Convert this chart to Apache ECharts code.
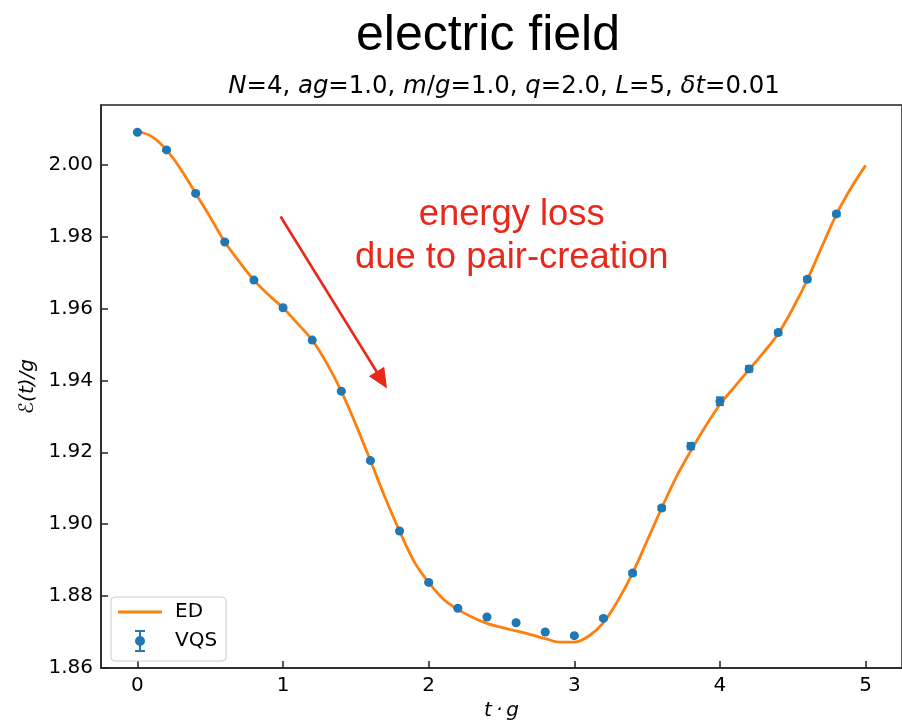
<!DOCTYPE html>
<html>
<head>
<meta charset="utf-8">
<script src="https://cdn.jsdelivr.net/npm/echarts@6/dist/echarts.min.js"></script>
<style>html,body{margin:0;padding:0;background:#fff}#c{width:902px;height:726px}</style>
</head>
<body>
<div id="c"></div>
<script>
// ---- data ----
var edT = [0,0.1,0.2,0.3,0.4,0.5,0.6,0.7,0.8,0.9,1.0,1.1,1.2,1.3,1.4,1.5,1.6,1.7,1.8,1.9,2.0,2.1,2.2,2.3,2.4,2.5,2.6,2.7,2.8,2.9,3.0,3.1,3.2,3.3,3.4,3.5,3.6,3.7,3.8,3.9,4.0,4.1,4.2,4.3,4.4,4.5,4.6,4.7,4.8,4.9,5.0];
var edE = [2.0093,2.0078,2.0041,1.9986,1.9920,1.9854,1.9785,1.9730,1.9679,1.9638,1.9602,1.9558,1.9512,1.9448,1.9370,1.9277,1.9177,1.9075,1.8981,1.8896,1.8838,1.8792,1.8763,1.8741,1.8724,1.8713,1.8703,1.8693,1.8682,1.8672,1.8672,1.8689,1.8726,1.8788,1.8864,1.8954,1.9045,1.9131,1.9204,1.9272,1.9333,1.9382,1.9430,1.9478,1.9530,1.9600,1.9680,1.9772,1.9862,1.9935,1.9998];
var vqsT = [0,0.2,0.4,0.6,0.8,1.0,1.2,1.4,1.6,1.8,2.0,2.2,2.4,2.6,2.8,3.0,3.2,3.4,3.6,3.8,4.0,4.2,4.4,4.6,4.8];
var vqsE = [2.0090,2.0041,1.9920,1.9785,1.9679,1.9602,1.9512,1.9370,1.9177,1.8981,1.8838,1.8766,1.8742,1.8726,1.8700,1.8690,1.8738,1.8864,1.9045,1.9217,1.9342,1.9432,1.9533,1.9681,1.9863];
var vqsErr = [0.0003,0.0003,0.0003,0.0003,0.0003,0.0003,0.0003,0.0003,0.0003,0.0003,0.0003,0.0003,0.0003,0.0003,0.0003,0.0003,0.0004,0.0006,0.0006,0.0009,0.0011,0.0008,0.0006,0.0006,0.0006];
var xTicks = [0,1,2,3,4,5];
var yTicks = [1.86,1.88,1.90,1.92,1.94,1.96,1.98,2.00];
var titleText = 'electric field';
var annotationText = 'energy loss\ndue to pair-creation';
var annotationAt = [2.57, 1.9799];
var arrowFrom = [0.983, 1.9856];
var arrowTo = [1.678, 1.9401];

var chart = echarts.init(document.getElementById('c'), null, {renderer:'canvas'});
var edData = edT.map(function(t,i){return [t, edE[i]];});
var vqsData = vqsT.map(function(t,i){return [t, vqsE[i]];});
var errData = vqsT.map(function(t,i){return [t, vqsE[i], vqsErr[i]];});
var blue = '#1f77b4', orange = '#ff7f0e', red = '#e8281b';
var axisCol = '#222';

var option = {
  animation: false,
  backgroundColor: '#fff',
  title: [
    {text: titleText, left: 488, top: 11, textAlign: 'center', padding: 0,
     textStyle: {fontFamily: '"Liberation Sans", Arial, sans-serif', fontSize: 50, fontWeight: 'normal', color: '#000'}},
    {text: '{i|N}=4, {i|ag}=1.0, {i|m}/{i|g}=1.0, {i|q}=2.0, {i|L}=5, {i|δt}=0.01', left: 504, top: 75, textAlign: 'center', padding: 0,
     textStyle: {fontFamily: '"DejaVu Sans"', fontSize: 24.4, fontWeight: 'normal', color: '#000',
       rich: {i: {fontFamily: '"DejaVu Sans"', fontStyle: 'italic', fontSize: 24.4, color: '#000'}}}}
  ],
  grid: {left: 101, top: 105, width: 808, height: 567.5, show: true, borderColor: axisCol, borderWidth: 1.5, containLabel: false},
  legend: {
    left: 111, top: 597, orient: 'vertical',
    padding: [5, 9, 9, 7], itemWidth: 44, itemHeight: 22, itemGap: 8,
    backgroundColor: '#fff', borderColor: '#cccccc', borderWidth: 1, borderRadius: 4,
    textStyle: {fontFamily: '"DejaVu Sans"', fontSize: 20, color: '#000', padding: [0,0,0,8]},
    data: [
      {name: 'ED', icon: 'path://M0,0H44V3H0Z', itemStyle: {color: orange}},
      {name: 'VQS', icon: 'path://M3,0H13V2H3Z M7,0H9V22H7Z M3,20H13V22H3Z M8,6A5,5 0 1 1 8,16A5,5 0 1 1 8,6Z', itemStyle: {color: blue}}
    ]
  },
  xAxis: {
    type: 'value', min: -0.25, max: 5.25,
    name: 't\u2009·\u2009g', nameLocation: 'middle', nameGap: 33,
    nameTextStyle: {fontFamily: '"DejaVu Sans"', fontStyle: 'italic', fontSize: 20, color: '#000'},
    axisLine: {show: true, onZero: false, lineStyle: {color: axisCol, width: 1.5}},
    axisTick: {show: true, inside: true, length: 7, lineStyle: {color: axisCol, width: 1.5}, customValues: xTicks},
    axisLabel: {fontFamily: '"DejaVu Sans"', fontSize: 20, color: '#000', margin: 8, customValues: xTicks},
    splitLine: {show: false}
  },
  yAxis: {
    type: 'value', min: 1.86, max: 2.0166,
    name: 'ℰ(t)/g', nameLocation: 'middle', nameGap: 63, nameRotate: 90,
    nameTextStyle: {fontFamily: '"DejaVu Sans"', fontStyle: 'italic', fontSize: 20, color: '#000'},
    axisLine: {show: true, onZero: false, lineStyle: {color: axisCol, width: 1.5}},
    axisTick: {show: true, inside: true, length: 7, lineStyle: {color: axisCol, width: 1.5}, customValues: yTicks},
    axisLabel: {fontFamily: '"DejaVu Sans"', fontSize: 20, color: '#000', margin: 8, customValues: yTicks,
      formatter: function(v){return v.toFixed(2);}},
    splitLine: {show: false}
  },
  series: [
    {
      name: 'ED', type: 'line', data: edData, smooth: 0.35, symbol: 'none', z: 2,
      lineStyle: {color: orange, width: 2.8}, itemStyle: {color: orange},
      markLine: {
        silent: true, symbol: ['none', 'triangle'], symbolSize: [18, 20], animation: false,
        lineStyle: {color: red, width: 2.6, type: 'solid'}, label: {show: false},
        data: [[{coord: arrowFrom}, {coord: arrowTo}]]
      },
      markPoint: {
        silent: true, symbol: 'circle', symbolSize: 0,
        data: [{coord: annotationAt, value: 0}],
        label: {show: true, position: 'inside', formatter: annotationText, color: red,
          fontFamily: '"Liberation Sans", Arial, sans-serif', fontSize: 36.4, lineHeight: 43, align: 'center'}
      }
    },
    {
      name: 'VQSerr', type: 'custom', data: errData, z: 3,
      renderItem: function(params, api){
        var x = api.value(0), y = api.value(1), e = api.value(2);
        var top = api.coord([x, y + e]), bot = api.coord([x, y - e]);
        var cw = 4;
        var st = {stroke: blue, lineWidth: 1.8};
        return {type: 'group', children: [
          {type: 'line', shape: {x1: top[0], y1: top[1], x2: bot[0], y2: bot[1]}, style: st},
          {type: 'line', shape: {x1: top[0]-cw, y1: top[1], x2: top[0]+cw, y2: top[1]}, style: st},
          {type: 'line', shape: {x1: bot[0]-cw, y1: bot[1], x2: bot[0]+cw, y2: bot[1]}, style: st}
        ]};
      }
    },
    {
      name: 'VQS', type: 'scatter', data: vqsData, symbol: 'circle', symbolSize: 9, z: 4,
      itemStyle: {color: blue, opacity: 1}
    }
  ]
};
chart.setOption(option);
</script>
</body>
</html>
